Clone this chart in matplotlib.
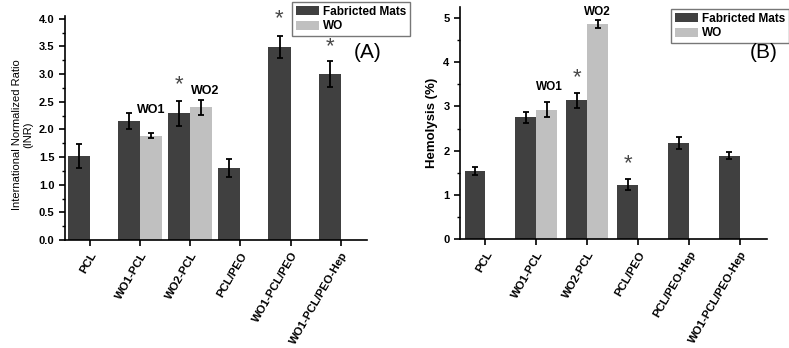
import matplotlib.pyplot as plt
import numpy as np

plt.rcParams['font.family'] = ['Liberation Sans', 'DejaVu Sans']

# Panel A data (INR)
cats_a = ['PCL', 'WO1-PCL', 'WO2-PCL', 'PCL/PEO', 'WO1-PCL/PEO', 'WO1-PCL/PEO-Hep']
mats_a = [1.52, 2.15, 2.29, 1.30, 3.49, 3.00]
mats_a_err = [0.21, 0.14, 0.23, 0.165, 0.20, 0.23]
wo_a = [np.nan, 1.89, 2.40, np.nan, np.nan, np.nan]
wo_a_err = [0, 0.05, 0.13, 0, 0, 0]

# Panel B data (Hemolysis %)
cats_b = ['PCL', 'WO1-PCL', 'WO2-PCL', 'PCL/PEO', 'PCL/PEO-Hep', 'WO1-PCL/PEO-Hep']
mats_b = [1.54, 2.75, 3.14, 1.23, 2.17, 1.89]
mats_b_err = [0.10, 0.12, 0.17, 0.13, 0.13, 0.07]
wo_b = [np.nan, 2.93, 4.87, np.nan, np.nan, np.nan]
wo_b_err = [0, 0.16, 0.09, 0, 0, 0]

dark = '#404040'
light = '#c0c0c0'
star_c = '#474747'

fig = plt.figure(figsize=(7.89, 3.48), dpi=100)


def panel(ax, cats, mats, mats_err, wo, wo_err, w, ylim, major, minor, fmt):
    x = np.arange(len(cats))
    ekw = dict(ecolor='black', elinewidth=1.3, capsize=2.5, capthick=1.3)
    ax.bar(x - w / 2, mats, w, color=dark, label='Fabricted Mats', yerr=mats_err, error_kw=ekw)
    ax.bar(x + w / 2, wo, w, color=light, label='WO', yerr=wo_err, error_kw=ekw)
    ax.set_xlim(-0.5, len(cats) - 0.47)
    ax.set_ylim(*ylim)
    ax.set_xticks(x)
    ax.set_xticklabels(cats, rotation=60, ha='right', rotation_mode='anchor',
                       fontsize=8.2, fontweight='bold')
    ax.set_yticks(np.arange(0, ylim[1] + 0.01, major))
    ax.set_yticks(np.arange(0, ylim[1] + 0.01, minor), minor=True)
    ax.yaxis.set_major_formatter(plt.FormatStrFormatter(fmt))
    for s in ['top', 'right']:
        ax.spines[s].set_visible(False)
    for s in ['left', 'bottom']:
        ax.spines[s].set_linewidth(1.2)
    ax.tick_params(axis='both', which='major', direction='out', length=4, width=1.2)
    ax.tick_params(axis='y', which='minor', direction='out', length=2, width=1.0)
    ax.tick_params(axis='y', labelsize=8)
    for t in ax.get_yticklabels():
        t.set_fontweight('bold')
    return x


def legend(ax, x0, y0):
    ax.legend(loc='upper left', bbox_to_anchor=(x0 / 789, 1 - y0 / 348), bbox_transform=fig.transFigure,
              frameon=True, fancybox=False, edgecolor='#777777', framealpha=1,
              prop=dict(size=8.5, weight='bold'), handlelength=2.0, handleheight=0.8,
              handletextpad=0.35, labelspacing=0.25, borderpad=0.3, borderaxespad=0)


# Panel A
ax1 = fig.add_axes([0.0824, 0.310, 0.383, 0.644])
xa = panel(ax1, cats_a, mats_a, mats_a_err, wo_a, wo_a_err, 0.44, (0, 4.05), 0.5, 0.25, '%.1f')
ax1.set_ylabel('International Normalized Ratio\n(INR)', fontsize=8)
ax1.yaxis.set_label_coords(-0.105, 0.47)
w = 0.44
for i, off in [(2, 0.1), (4, 0.12), (5, 0.08)]:
    ax1.text(xa[i] - w / 2, mats_a[i] + mats_a_err[i] + off, '*', fontsize=16, color=star_c,
             ha='center', va='bottom')
ax1.text(xa[1] + w / 2, 2.25, 'WO1', fontsize=9, fontweight='bold', ha='center', va='bottom')
ax1.text(xa[2] + w / 2 + 0.08, 2.58, 'WO2', fontsize=9, fontweight='bold', ha='center', va='bottom')
fig.text(368 / 789, 1 - 52 / 348, '(A)', fontsize=15, ha='center', va='center')
legend(ax1, 292, 2)

# Panel B
ax2 = fig.add_axes([0.583, 0.313, 0.389, 0.667])
xb = panel(ax2, cats_b, mats_b, mats_b_err, wo_b, wo_b_err, 0.41, (0, 5.25), 1, 0.5, '%d')
ax2.set_ylabel('Hemolysis (%)', fontsize=9.5, fontweight='bold')
w = 0.41
for i in [2, 3]:
    ax2.text(xb[i] - w / 2, mats_b[i] + mats_b_err[i] + 0.1, '*', fontsize=16, color=star_c,
             ha='center', va='bottom')
ax2.text(xb[1] + 0.25, 3.3, 'WO1', fontsize=8.5, fontweight='bold', ha='center', va='bottom')
ax2.text(xb[2] + w / 2, 5.0, 'WO2', fontsize=8.5, fontweight='bold', ha='center', va='bottom')
fig.text(764 / 789, 1 - 53 / 348, '(B)', fontsize=15, ha='center', va='center')
legend(ax2, 671, 9)

fig.savefig('out.png', dpi=100)
